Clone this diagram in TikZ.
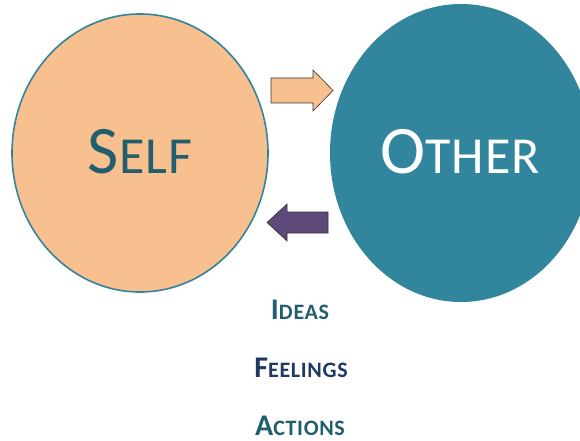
\documentclass[tikz,border=0pt]{standalone}
\usepackage{fontspec}
\setmainfont{Carlito}
\usetikzlibrary{shapes.geometric}
\definecolor{peach}{HTML}{F9C08F}
\definecolor{tealline}{HTML}{31849B}
\definecolor{tealfill}{HTML}{31859C}
\definecolor{tealtext}{HTML}{215E6E}
\definecolor{navytext}{HTML}{1F3864}
\definecolor{plum}{HTML}{5F497A}
\tikzset{
  bubble/.style={ellipse, inner sep=0pt},
  blockarrow/.style={draw=black!80, line width=0.6pt, line join=miter},
  heading/.style={anchor=base, inner sep=0pt, font=\bfseries\addfontfeature{LetterSpace=3}},
  bubblelabel/.style={anchor=base, inner sep=0pt, font=\addfontfeature{LetterSpace=2}},
}
\begin{document}
\begin{tikzpicture}[x=1pt, y=-1pt]
  \useasboundingbox (0,0) rectangle (580,441);
  \clip (0,0) rectangle (580,441);
  % the two circles
  \node[bubble, fill=peach, draw=tealline, line width=1.6pt,
        minimum width=256pt, minimum height=278pt] (self) at (140,153) {};
  \node[bubble, fill=tealfill, minimum width=262pt, minimum height=298pt]
        (other) at (461,153) {};
  % circle labels
  \node[bubblelabel, text=tealtext] (selflbl) at (140,173)
        {{\fontsize{68}{68}\selectfont S}{\fontsize{52}{52}\selectfont ELF}};
  \node[bubblelabel, text=white] (otherlbl) at (460,173)
        {{\fontsize{68}{68}\selectfont O}{\fontsize{52}{52}\selectfont THER}};
  % block arrows between the circles
  \draw[blockarrow, fill=peach]
    (271,78) -- (313,78) -- (313,70) -- (333,90.5) -- (313,111)
    -- (313,103) -- (271,103) -- cycle;
  \draw[blockarrow, fill=plum]
    (328,212) -- (287,212) -- (287,204) -- (267,222.5) -- (287,241)
    -- (287,233) -- (328,233) -- cycle;
  % list of headings
  \node[heading, text=tealtext] (ideas) at (300,319)
        {{\fontsize{30}{30}\selectfont I}{\fontsize{22}{22}\selectfont DEAS}};
  \node[heading, text=navytext] (feelings) at (301,377)
        {{\fontsize{30}{30}\selectfont F}{\fontsize{22}{22}\selectfont EELINGS}};
  \node[heading, text=tealtext] (actions) at (300,435)
        {{\fontsize{30}{30}\selectfont A}{\fontsize{22}{22}\selectfont CTIONS}};
\end{tikzpicture}
\end{document}
